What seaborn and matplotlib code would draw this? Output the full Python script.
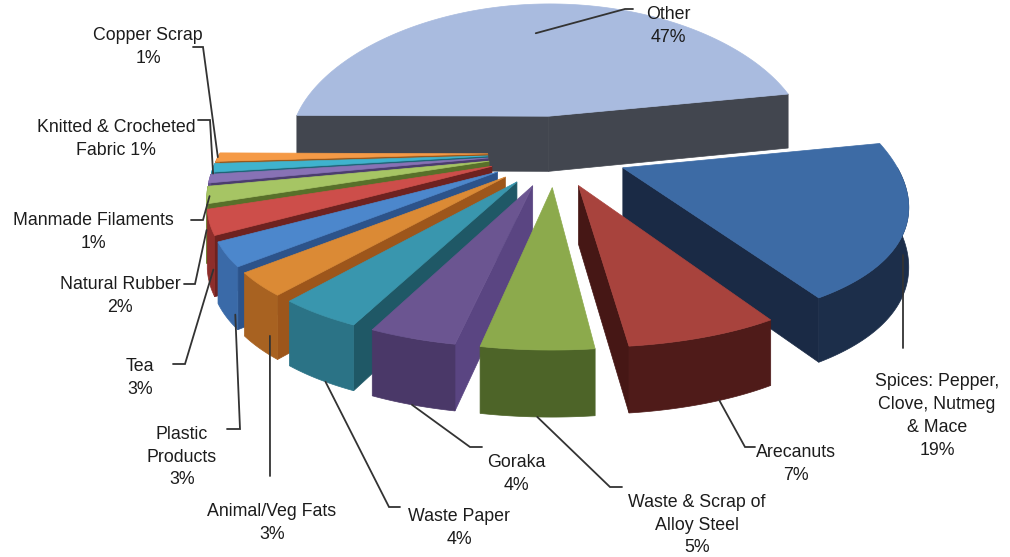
import numpy as np
import matplotlib
matplotlib.use("Agg")
import matplotlib.pyplot as plt
import seaborn as sns

# ---------------- data ----------------
names = ["Other", "Spices: Pepper,\nClove, Nutmeg\n& Mace", "Arecanuts",
         "Waste & Scrap of\nAlloy Steel", "Goraka", "Waste Paper",
         "Animal/Veg Fats", "Plastic\nProducts", "Tea", "Natural Rubber",
         "Manmade Filaments", "Knitted & Crocheted\nFabric", "Copper Scrap"]
values = [47, 19, 7, 5, 4, 4, 3, 3, 3, 2, 1, 1, 1]
pct_sep = ["\n"] * 11 + [" ", "\n"]

top_colors = ["#A9BBDF", "#3D6BA5", "#A8433D", "#8CAA4C", "#6B5591", "#3996AE",
              "#DB8A35", "#4C87CC", "#CD4E4A", "#A6C564", "#8872B5", "#3FB3CE", "#F59A46"]
side_colors = ["#474C58", "#1C2E4A", "#4F1B19", "#4D6428", "#4A3868", "#2B7386",
               "#A86221", "#3A6AA8", "#8E2E2B", "#6E8A37", "#5E4D86", "#2A8199", "#B96C24"]
face_colors = ["#42464F", "#1A2A45", "#461715", "#3F5420", "#5A4582", "#1F5866",
               "#9D561B", "#2C538A", "#6E2220", "#58702A", "#4B3D6E", "#1F6578", "#97571C"]
explode = [0.285, 0.27] + [0.25] * 11

# ---------------- layout / projection ----------------
CX, CY, SX, SY = 555, 153, 268, 134
PX, PY, HPX = 0.22, 0.12, 57
START = 179.6

sns.set_theme(style="white")
plt.rcParams["font.family"] = ["Liberation Sans", "DejaVu Sans"]

fig = plt.figure(figsize=(10.1, 5.57), dpi=100)
ax = fig.add_axes([0, 0, 1, 1])
ax.set_xlim(0, 1010)
ax.set_ylim(557, 0)
ax.axis("off")


def proj(theta, r, H, ex, ez):
    t = np.radians(theta)
    X = r * np.cos(t) + ex
    Z = -r * np.sin(t) + ez
    sx = 1.0 / (1.0 - PX * Z)
    sy = 1.0 / (1.0 - PY * Z)
    return CX + SX * X * sx, CY + SY * Z * sy + HPX * H * sy


vals = np.array(values, dtype=float)
cum = np.concatenate([[0], np.cumsum(vals)])[:-1]
th1 = START - 360 * cum / vals.sum()
th2 = th1 - 360 * vals / vals.sum()
mid = (th1 + th2) / 2
exs = np.array(explode) * np.cos(np.radians(mid))
ezs = -np.array(explode) * np.sin(np.radians(mid))

order = np.argsort(ezs - 0.5 * np.sin(np.radians(mid)))


def arc(a, b, H, i, n=120):
    th = np.linspace(a, b, n)
    return proj(th, 1.0, H, exs[i], ezs[i])


for i in order:
    a1, a2 = th1[i], th2[i]
    ex, ez = exs[i], ezs[i]
    # radial faces
    for th, vis in ((a1, np.cos(np.radians(a1)) < 0), (a2, np.cos(np.radians(a2)) > 0)):
        if vis:
            p0 = proj(th, 0, 0, ex, ez)
            p1 = proj(th, 1, 0, ex, ez)
            p2 = proj(th, 1, 1, ex, ez)
            p3 = proj(th, 0, 1, ex, ez)
            ax.fill([p0[0], p1[0], p2[0], p3[0]], [p0[1], p1[1], p2[1], p3[1]],
                    color=face_colors[i], lw=0.5, ec=face_colors[i], zorder=1)
    # outer side (front facing)
    for lo, hi in ((-180, 0), (180, 360)):
        a = max(a2, lo)
        b = min(a1, hi)
        if b > a:
            xt, yt = arc(b, a, 0, i)
            xb, yb = arc(a, b, 1, i)
            ax.fill(np.concatenate([xt, xb]), np.concatenate([yt, yb]),
                    color=side_colors[i], lw=0.5, ec=side_colors[i], zorder=1)
    # top face
    xa, ya = proj(a1, 0, 0, ex, ez)
    xt, yt = arc(a1, a2, 0, i)
    ax.fill(np.concatenate([[xa], xt]), np.concatenate([[ya], yt]),
            color=top_colors[i], lw=0.5, ec=top_colors[i], zorder=1)

# ---------------- labels ----------------
label_pos = [(668, 26), (937, 416), (796, 464), (697, 525), (516, 474), (459, 528),
             (272, 523), (182, 457), (140, 378), (120, 296), (93, 232), (116, 139), (148, 47)]
# anchor on slice: (fraction along slice, radius, height)
anchors = [(0.5, 0.72, 0), (0.22, 1, 1.3), (0.4, 1, 1), (0.5, 1, 1), (0.5, 1, 1),
           (0.4, 1, 1), (0.2, 1, 0.7), (0.1, 1, 0.8), (0.1, 1, 0.6), (0.2, 1, 0.5),
           (0.5, 1, 0.3), (0.5, 1, 0.1), (0.5, 1, 0)]
elbows = [[(625, 9), (633, 9)], [None], [(745, 447), (755, 447)], [(610, 487), (622, 487)],
          [(470, 447), (482, 447)], [(389, 507), (400, 507)], [(270, 476)],
          [(240, 429), (227, 429)], [(185, 364), (173, 364)], [(195, 284), (184, 284)],
          [(203, 220), (191, 220)], [(210, 120), (198, 120)], [(203, 47), (193, 47)]]

for i in range(len(values)):
    f, r, H = anchors[i]
    th = th1[i] + (th2[i] - th1[i]) * f
    axp, ayp = proj(th, r, H, exs[i], ezs[i])
    pts = [(axp, ayp)]
    for e in elbows[i]:
        pts.append((axp, 348) if e is None else e)
    ax.plot([p[0] for p in pts], [p[1] for p in pts], color="#333333", lw=1.3, zorder=3,
            solid_joinstyle="miter")
    ax.text(label_pos[i][0], label_pos[i][1], f"{names[i]}{pct_sep[i]}{values[i]}%",
            ha="center", va="center", multialignment="center", fontsize=12.8,
            color="#1c1c1c", linespacing=1.44, zorder=4)

fig.savefig("out.png", dpi=100)
